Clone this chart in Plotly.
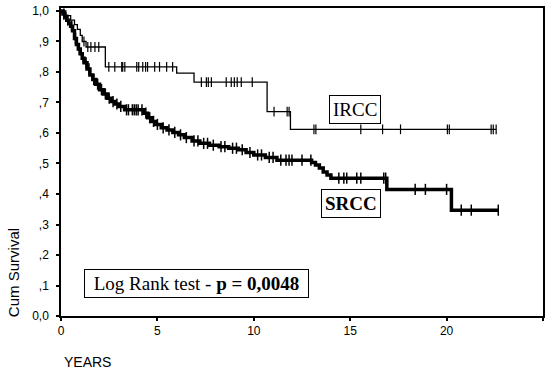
import numpy as np
import plotly.graph_objects as go

# ---- data ----
ircc_time = [0, 0.25, 0.5, 0.7, 0.85, 1.0, 1.1, 1.3, 2.3, 6.0, 6.9, 10.69, 11.9, 22.57]
ircc_surv = [1.0, 0.985, 0.97, 0.955, 0.94, 0.92, 0.90, 0.882, 0.817, 0.796, 0.767, 0.67, 0.612, 0.612]
ircc_cens = [1.19, 1.39, 1.55, 1.76, 1.96, 2.48, 2.79, 3.15, 3.20, 3.31, 3.93, 4.03, 4.24, 4.39, 4.49,
             4.86, 5.11, 5.48, 5.79, 7.28, 7.54, 7.64, 7.80, 8.57, 8.83, 8.99, 9.14, 9.35, 9.92,
             11.05, 11.73, 11.83, 13.12, 13.22, 15.55, 16.68, 17.61, 20.04, 20.14, 22.31, 22.42, 22.57]

srcc_time = [0, 0.1, 0.2, 0.3, 0.4, 0.5, 0.6, 0.7, 0.8, 0.9, 1.0, 1.1, 1.2, 1.35, 1.5, 1.65, 1.8,
             2.0, 2.2, 2.4, 2.6, 2.8, 3.0, 3.3, 4.3, 4.5, 4.7, 4.9, 5.2, 5.5, 5.8, 6.1, 6.4, 6.8,
             7.2, 7.7, 8.2, 8.7, 9.2, 9.6, 10.0, 10.6, 11.2, 13.0, 13.2, 13.4, 13.6, 13.8, 14.0,
             16.9, 20.25, 22.7]
srcc_surv = [1.0, 0.99, 0.98, 0.97, 0.96, 0.95, 0.935, 0.91, 0.89, 0.875, 0.86, 0.845, 0.83, 0.81,
             0.79, 0.775, 0.76, 0.742, 0.728, 0.714, 0.703, 0.695, 0.687, 0.676, 0.665, 0.65, 0.638,
             0.628, 0.617, 0.61, 0.602, 0.594, 0.585, 0.574, 0.566, 0.56, 0.555, 0.55, 0.545, 0.536,
             0.528, 0.52, 0.511, 0.503, 0.495, 0.485, 0.472, 0.462, 0.452, 0.415, 0.347, 0.347]
srcc_cens = [0.15, 0.35, 0.55, 0.75, 0.95, 1.15, 1.3, 1.45, 1.7, 1.9, 2.1, 2.3, 2.5, 2.7, 2.9, 3.1,
             3.4, 3.5, 3.7, 3.8, 3.9, 4.0, 4.2, 4.4, 4.6, 4.8, 5.0, 5.3, 5.6, 5.9, 6.2, 6.5, 6.9, 7.1,
             7.4, 7.6, 7.9, 8.3, 8.5, 8.9, 9.1, 9.4, 9.8, 10.2, 10.4, 10.8, 11.0, 11.4, 11.67, 11.83,
             11.98, 12.5, 12.96, 14.41, 14.67, 14.82, 15.34, 15.55, 16.74, 16.84, 18.37, 18.9, 20.0,
             20.76, 21.28, 22.68]

y_tickvals = [0, 0.1, 0.2, 0.3, 0.4, 0.5, 0.6, 0.7, 0.8, 0.9, 1.0]
y_ticktext = ["0,0", ",1", ",2", ",3", ",4", ",5", ",6", ",7", ",8", ",9", "1,0"]
x_tickvals = [0, 5, 10, 15, 20, 25]


def step_at(times, surv, t):
    idx = np.searchsorted(np.array(times), np.array(t), side="right") - 1
    return np.array(surv)[idx]


fig = go.Figure()
fig.add_trace(go.Scatter(x=ircc_time, y=ircc_surv, mode="lines", line=dict(color="black", width=1.3, shape="hv"),
                         showlegend=False, hoverinfo="skip"))
fig.add_trace(go.Scatter(x=ircc_cens, y=step_at(ircc_time, ircc_surv, ircc_cens), mode="markers",
                         marker=dict(symbol="line-ns", size=7, line=dict(color="black", width=1.2)),
                         showlegend=False))
fig.add_trace(go.Scatter(x=srcc_time, y=srcc_surv, mode="lines", line=dict(color="black", width=3.5, shape="hv"),
                         showlegend=False, hoverinfo="skip"))
fig.add_trace(go.Scatter(x=srcc_cens, y=step_at(srcc_time, srcc_surv, srcc_cens), mode="markers",
                         marker=dict(symbol="line-ns", size=8, line=dict(color="black", width=1.5)),
                         showlegend=False))

serif = "Liberation Serif"
sans = "Liberation Sans"
fig.update_layout(
    width=549, height=374,
    margin=dict(l=61, r=4, t=8, b=58),
    paper_bgcolor="white", plot_bgcolor="white",
    xaxis=dict(range=[0, 25], tickvals=x_tickvals, showgrid=False, zeroline=False,
               showline=True, linecolor="black", linewidth=1.5, mirror=True,
               ticks="outside", ticklen=3, tickwidth=2, tickcolor="black",
               tickfont=dict(family=sans, size=12, color="black")),
    yaxis=dict(range=[0, 1.0098], tickvals=y_tickvals, ticktext=y_ticktext, showgrid=False, zeroline=False,
               showline=True, linecolor="black", linewidth=1.5, mirror=True,
               ticks="outside", ticklen=3, tickwidth=2, tickcolor="black", ticklabelstandoff=5,
               tickfont=dict(family=sans, size=12, color="black")),
    annotations=[
        dict(x=7.05, y=0.105, xref="x", yref="y", showarrow=False, width=217,
             text="Log Rank test - <b>p = 0,0048</b>", font=dict(family=serif, size=19, color="black"),
             bordercolor="black", borderwidth=1, borderpad=3, bgcolor="white"),
        dict(x=15.24, y=0.677, xref="x", yref="y", showarrow=False,
             text="IRCC", font=dict(family=serif, size=19, color="black"),
             bordercolor="black", borderwidth=1, borderpad=3, bgcolor="white"),
        dict(x=15.06, y=0.369, xref="x", yref="y", showarrow=False,
             text="<b>SRCC</b>", font=dict(family=serif, size=19, color="black"),
             bordercolor="black", borderwidth=1, borderpad=3, bgcolor="white"),
        dict(x=-0.097, y=0.14, xref="paper", yref="paper", showarrow=False, textangle=-90,
             xanchor="center", yanchor="middle",
             text="Cum Survival", font=dict(family=sans, size=15, color="black")),
        dict(x=0.002, y=-0.149, xref="paper", yref="paper", showarrow=False, xanchor="left", yanchor="middle",
             text="YEARS", font=dict(family=sans, size=14, color="black")),
    ],
)

fig.write_html("out.html")
